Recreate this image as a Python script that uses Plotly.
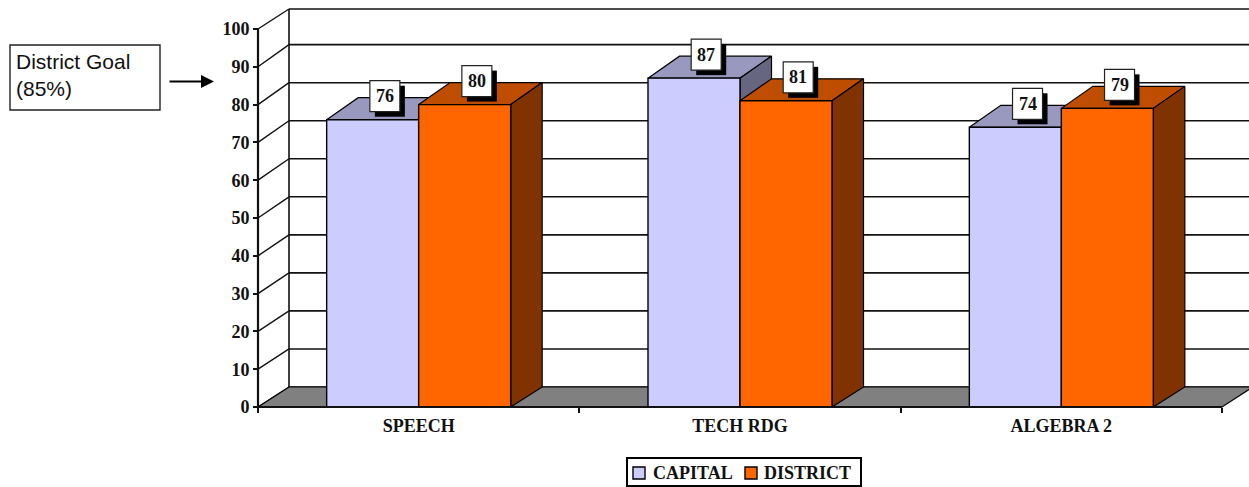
import plotly.graph_objects as go

categories = ["SPEECH", "TECH RDG", "ALGEBRA 2"]
capital = [76, 87, 74]
district = [80, 81, 79]
y_ticks = [0, 10, 20, 30, 40, 50, 60, 70, 80, 90, 100]
x_bounds = [0, 1, 2, 3]
series_names = ["CAPITAL", "DISTRICT"]

W, H = 1249, 487
ORIGIN_X, ORIGIN_Y = 258, 407
PX_X = (1222 - 258) / 3
PX_Y = 378 / 100
BAR_W = 92 / PX_X
WALL_DX = 31 / PX_X
WALL_DY = 20 / PX_Y
WALL_SCALE = 1.0063
BAR_DX = 31.5 / PX_X
BAR_DY_TOP = 22 / PX_Y
BAR_DY_BOT = 20 / PX_Y
SERIF = "Liberation Serif"
INK = "#111111"

fig = go.Figure()


def poly(xs, ys, fill, zorder=0, width=1.2):
    fig.add_trace(go.Scatter(
        x=xs + xs[:1], y=ys + ys[:1], mode="lines", fill="toself", fillcolor=fill,
        line=dict(color="black", width=width), showlegend=False,
        hoverinfo="skip", zorder=zorder))


def lines(xs, ys, width, zorder=0):
    fig.add_trace(go.Scatter(
        x=xs, y=ys, mode="lines", line=dict(color=INK, width=width),
        showlegend=False, hoverinfo="skip", zorder=zorder))


# back wall gridlines and side wall diagonals
gx, gy, dx, dy = [], [], [], []
for v in y_ticks:
    back = min(v * WALL_SCALE + WALL_DY, 100 + WALL_DY)
    gx += [WALL_DX, 3 + 2 * WALL_DX, None]
    gy += [back, back, None]
    dx += [0, WALL_DX, None]
    dy += [v, back, None]
lines(gx, gy, 1.6)
lines(dx, dy, 1.4)
lines([WALL_DX, WALL_DX], [WALL_DY, 100 + WALL_DY], 1.6)
poly([0, 3, 3 + WALL_DX, WALL_DX], [0, 0, WALL_DY, WALL_DY], "#808080")

# depth faces of each bar
for i in range(len(categories)):
    mid = i + 0.5
    for v, x0, top, side in (
        (capital[i], mid - BAR_W, "#9999BF", "#666680"),
        (district[i], mid, "#BF4D00", "#803300"),
    ):
        x1 = x0 + BAR_W
        poly([x0, x1, x1 + BAR_DX, x0 + BAR_DX],
             [v, v, v + BAR_DY_TOP, v + BAR_DY_TOP], top, zorder=1)
        poly([x1, x1 + BAR_DX, x1 + BAR_DX, x1],
             [0, BAR_DY_BOT, v + BAR_DY_TOP, v], side, zorder=1)

mids = [i + 0.5 for i in range(len(categories))]
fig.add_trace(go.Bar(x=mids, y=capital, name=series_names[0], width=BAR_W, offset=-BAR_W,
                     marker=dict(color="#CCCCFF", line=dict(color="black", width=1.4)),
                     showlegend=False, zorder=2))
fig.add_trace(go.Bar(x=mids, y=district, name=series_names[1], width=BAR_W, offset=0,
                     marker=dict(color="#FF6600", line=dict(color="black", width=1.4)),
                     showlegend=False, zorder=2))

# front axis lines
lines([0, 0], [0, 100], 2.2, zorder=3)
lines([0, 3], [0, 0], 2.2, zorder=3)

shapes, annotations = [], []
for values, off in ((capital, -BAR_W / 2), (district, BAR_W / 2)):
    for m, v in zip(mids, values):
        cx = m + off + 12.2 / PX_X
        cy = v + 23.5 / PX_Y
        shapes.append(dict(type="rect", xref="x", yref="y", xsizemode="pixel", ysizemode="pixel",
                           xanchor=cx, yanchor=cy, x0=-10, x1=20, y0=-20.5, y1=10.5,
                           fillcolor="black", line=dict(color="black", width=0)))
        shapes.append(dict(type="rect", xref="x", yref="y", xsizemode="pixel", ysizemode="pixel",
                           xanchor=cx, yanchor=cy, x0=-15, x1=15, y0=-15.5, y1=15.5,
                           fillcolor="white", line=dict(color="#222222", width=1.2)))
        annotations.append(dict(x=cx, y=cy, xref="x", yref="y", text=str(v), showarrow=False,
                                font=dict(family=SERIF, size=18, color=INK, weight=700)))


def px_rect(x0, x1, y0, y1, fill, color="black", width=1.4):
    return dict(type="rect", xref="paper", yref="paper", x0=x0 / W, x1=x1 / W,
                y0=1 - y1 / H, y1=1 - y0 / H, fillcolor=fill,
                line=dict(color=color, width=width))


# goal callout
shapes.append(px_rect(10, 160, 45, 110, "white", "#222222"))
annotations.append(dict(x=14 / W, y=1 - 75 / H, xref="paper", yref="paper",
                        text="District Goal<br>(85%)", showarrow=False, xanchor="left",
                        yanchor="middle", align="left",
                        font=dict(family="Liberation Sans", size=21, color=INK)))
annotations.append(dict(x=214 / W, y=1 - 81.5 / H, xref="paper", yref="paper", text="",
                        showarrow=True, ax=-46, ay=0, arrowhead=2, arrowsize=1.3,
                        arrowwidth=2, arrowcolor="black"))

# legend box
shapes.append(px_rect(627, 861, 458, 486, "white", "black", 2))
shapes.append(px_rect(633, 645, 467, 479, "#CCCCFF"))
shapes.append(px_rect(745, 757, 467, 479, "#FF6600"))
for name, left in zip(series_names, (651, 762)):
    annotations.append(dict(x=left / W, y=1 - 473 / H, xref="paper", yref="paper", text=name,
                            showarrow=False, xanchor="left", yanchor="middle",
                            font=dict(family=SERIF, size=18, color=INK, weight=700)))

fig.update_layout(
    width=W, height=H, margin=dict(l=0, r=0, t=0, b=0, autoexpand=False), autosize=False,
    paper_bgcolor="white", plot_bgcolor="white", barmode="overlay", showlegend=False,
    shapes=shapes, annotations=annotations,
    xaxis=dict(range=[-ORIGIN_X / PX_X, (W - ORIGIN_X) / PX_X], domain=[0, 1],
               anchor="free", position=(H - ORIGIN_Y) / H, showgrid=False, zeroline=False,
               showline=False, tickmode="array", tickvals=mids, ticktext=categories,
               ticks="", ticklabelstandoff=6,
               minor=dict(tickmode="array", tickvals=x_bounds, ticks="outside", ticklen=5,
                          tickwidth=1.6, tickcolor=INK, showgrid=False),
               tickfont=dict(family=SERIF, size=18, color=INK, weight=700)),
    yaxis=dict(range=[-(H - ORIGIN_Y) / PX_Y, ORIGIN_Y / PX_Y], domain=[0, 1],
               anchor="free", position=ORIGIN_X / W, showgrid=False, zeroline=False,
               showline=False, tickmode="array", tickvals=y_ticks, ticks="outside",
               ticklen=5, tickwidth=1.6, tickcolor=INK,
               tickfont=dict(family=SERIF, size=18, color=INK, weight=700)),
)

fig.write_html("out.html", config={"displayModeBar": False},
               post_script="document.body.style.margin='0';")
